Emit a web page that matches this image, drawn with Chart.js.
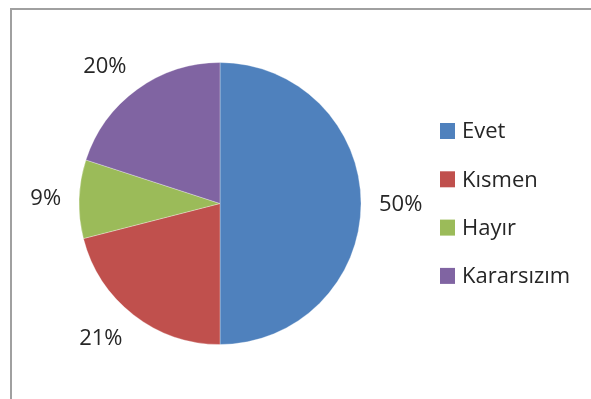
<!DOCTYPE html>
<html>
<head>
<meta charset="utf-8">
<script src="https://cdn.jsdelivr.net/npm/chart.js@4.4.1/dist/chart.umd.min.js"></script>
<style>
  html, body { margin: 0; padding: 0; background: #fff; }
  #wrap { position: relative; width: 591px; height: 399px; overflow: hidden; }
  #frame {
    position: absolute; left: 10px; top: 8px; width: 600px; height: 420px;
    border: 2px solid #a0a0a0; box-sizing: border-box;
  }
  canvas { position: absolute; left: 0; top: 0; }
</style>
</head>
<body>
<div id="wrap">
  <div id="frame"></div>
  <canvas id="pie" width="591" height="399"></canvas>
</div>
<script>
// survey answers
const answers = ['Evet', 'Kısmen', 'Hayır', 'Kararsızım'];
const shares = [50, 21, 9, 20];
const sliceColors = ['#4F81BD', '#C0504D', '#9BBB59', '#8064A2'];

const FONT = '22px "Open Sans", "Liberation Sans", sans-serif';
const TEXT_COLOR = '#262626';

const clamp1 = v => Math.max(-1, Math.min(1, v));

// percent labels just outside each slice: the box corner nearest the pie
// sits a fixed gap outside the rim, along the slice's middle angle
const outsideLabels = {
    id: 'outsideLabels',
    afterDatasetsDraw(chart) {
        const ctx = chart.ctx;
        const meta = chart.getDatasetMeta(0);
        ctx.save();
        ctx.font = FONT;
        ctx.fillStyle = TEXT_COLOR;
        ctx.textAlign = 'center';
        ctx.textBaseline = 'middle';
        meta.data.forEach((arc, i) => {
            const p = arc.getProps(['x', 'y', 'startAngle', 'endAngle', 'outerRadius'], true);
            const mid = (p.startAngle + p.endAngle) / 2;
            const text = shares[i] + '%';
            const halfW = ctx.measureText(text).width / 2;
            const halfH = 9;
            const c = Math.cos(mid), s = Math.sin(mid);
            const r = p.outerRadius + 18;
            const x = p.x + c * r + halfW * clamp1(2 * c);
            const y = p.y + s * r + halfH * clamp1(2 * s);
            ctx.fillText(text, x, y + 1);
        });
        ctx.restore();
    }
};

// legend on the right, one entry per answer
const sideLegend = {
    id: 'sideLegend',
    afterDraw(chart) {
        const ctx = chart.ctx;
        const x = 440;
        const top = 131;
        const step = 48.3;
        ctx.save();
        ctx.font = FONT;
        ctx.textBaseline = 'middle';
        chart.data.labels.forEach((label, i) => {
            const y = top + i * step;
            ctx.fillStyle = chart.data.datasets[0].backgroundColor[i];
            ctx.fillRect(x, y - 8, 15, 16);
            ctx.fillStyle = TEXT_COLOR;
            ctx.fillText(label, x + 22, y + 1);
        });
        ctx.restore();
    }
};

new Chart(document.getElementById('pie'), {
    type: 'pie',
    data: {
        labels: answers,
        datasets: [{
            data: shares,
            backgroundColor: sliceColors,
            borderColor: 'rgba(255,255,255,0.3)',
            borderWidth: 1
        }]
    },
    options: {
        responsive: false,
        animation: false,
        layout: {
            padding: { left: 78, right: 229, top: 62, bottom: 54 }
        },
        plugins: {
            legend: { display: false },
            tooltip: { enabled: false }
        }
    },
    plugins: [outsideLabels, sideLegend]
});
</script>
</body>
</html>
